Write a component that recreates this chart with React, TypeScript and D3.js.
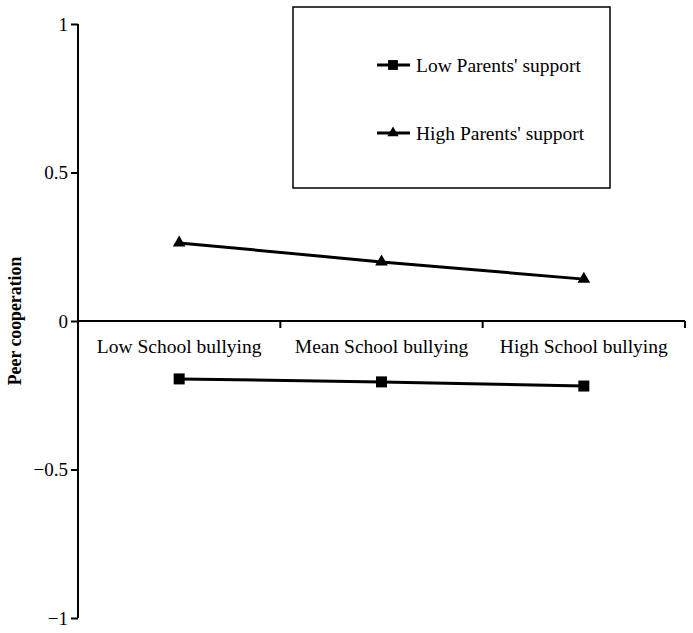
import React, { useEffect, useRef } from "react";
import * as d3 from "d3";

const categories = ["Low School bullying", "Mean School bullying", "High School bullying"];
const lowSupport = [-0.195, -0.205, -0.219];
const highSupport = [0.263, 0.199, 0.141];
const seriesNames = ["Low Parents' support", "High Parents' support"];
const yTicks = [-1, -0.5, 0, 0.5, 1];

const WIDTH = 693;
const HEIGHT = 633;
const FONT = "'Liberation Serif', 'Times New Roman', serif";

const App = () => {
  const svgRef = useRef<SVGSVGElement>(null);

  useEffect(() => {
    const svg = d3.select(svgRef.current);
    svg.selectAll("*").remove();

    const x = d3.scaleBand().domain(categories).range([78, 685]);
    const y = d3.scaleLinear().domain([-1, 1]).range([618, 24]);

    // y axis
    const yAxis = d3
      .axisLeft(y)
      .tickValues(yTicks)
      .tickSize(7)
      .tickPadding(3)
      .tickFormat((d) => {
        const v = d as number;
        return v < 0 ? "\u2212" + Math.abs(v) : String(v);
      });
    const gy = svg.append("g").attr("transform", "translate(78,0)").call(yAxis);
    gy.select(".domain").attr("stroke-width", 2).attr("d", `M0,${y(1)}V${y(-1)}`);
    gy.selectAll(".tick line").attr("stroke-width", 2);
    gy.selectAll(".tick text")
      .attr("font-family", FONT)
      .attr("font-size", 19)
      .attr("fill", "#000");

    // x axis at zero
    const gx = svg.append("g").attr("transform", `translate(0,${y(0)})`);
    gx.append("line")
      .attr("x1", x.range()[0])
      .attr("x2", x.range()[1])
      .attr("stroke", "#000")
      .attr("stroke-width", 2);
    const bounds = [...categories.map((c) => x(c)!), x.range()[1]].slice(1);
    gx.selectAll("line.tk")
      .data(bounds)
      .join("line")
      .attr("class", "tk")
      .attr("x1", (d) => d)
      .attr("x2", (d) => d)
      .attr("y1", 0)
      .attr("y2", 7)
      .attr("stroke", "#000")
      .attr("stroke-width", 2);
    gx.selectAll("text")
      .data(categories)
      .join("text")
      .attr("x", (d) => x(d)! + x.bandwidth() / 2)
      .attr("y", 32)
      .attr("text-anchor", "middle")
      .attr("font-family", FONT)
      .attr("font-size", 19.5)
      .text((d) => d);

    // y label
    svg
      .append("text")
      .attr("transform", `translate(21,${y(0)}) rotate(-90)`)
      .attr("text-anchor", "middle")
      .attr("font-family", FONT)
      .attr("font-weight", "bold")
      .attr("font-size", 17.8)
      .text("Peer cooperation");

    const cx = (c: string) => x(c)! + x.bandwidth() / 2;
    const line = d3
      .line<number>()
      .x((_, i) => cx(categories[i]))
      .y((d) => y(d));

    const series = [
      { values: lowSupport, symbol: d3.symbolSquare, size: 121 },
      { values: highSupport, symbol: d3.symbolTriangle, size: 70 },
    ];

    series.forEach((s) => {
      svg
        .append("path")
        .datum(s.values)
        .attr("d", line)
        .attr("fill", "none")
        .attr("stroke", "#000")
        .attr("stroke-width", 3);
      svg
        .append("g")
        .selectAll("path")
        .data(s.values)
        .join("path")
        .attr("transform", (d, i) => `translate(${cx(categories[i])},${y(d)})`)
        .attr("d", d3.symbol(s.symbol, s.size)())
        .attr("fill", "#000");
    });

    // legend
    const lg = svg.append("g");
    lg.append("rect")
      .attr("x", 293)
      .attr("y", 7)
      .attr("width", 317)
      .attr("height", 181)
      .attr("fill", "#fff")
      .attr("stroke", "#000")
      .attr("stroke-width", 1.5);
    series.forEach((s, i) => {
      const ly = 65 + i * 68;
      lg.append("line")
        .attr("x1", 377)
        .attr("x2", 410)
        .attr("y1", ly)
        .attr("y2", ly)
        .attr("stroke", "#000")
        .attr("stroke-width", 3);
      lg.append("path")
        .attr("transform", `translate(393,${ly})`)
        .attr("d", d3.symbol(s.symbol, s.size * 0.8)())
        .attr("fill", "#000");
      lg.append("text")
        .attr("x", 416)
        .attr("y", ly)
        .attr("dy", "0.35em")
        .attr("font-family", FONT)
        .attr("font-size", 19.5)
        .text(seriesNames[i]);
    });
  }, []);

  return (
    <svg
      ref={svgRef}
      width={WIDTH}
      height={HEIGHT}
      style={{ position: "absolute", left: 0, top: 0, background: "#fff" }}
    />
  );
};

export default App;
